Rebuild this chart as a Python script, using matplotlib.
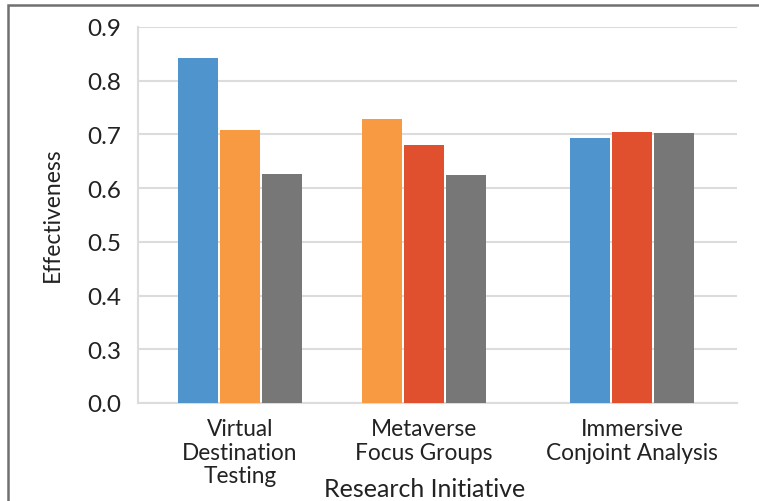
import numpy as np
import matplotlib.pyplot as plt
from matplotlib.patches import Rectangle

plt.rcParams['font.family'] = ['Lato', 'DejaVu Sans']

# data
groups = ["Virtual\nDestination\nTesting", "Metaverse\nFocus Groups", "Immersive\nConjoint Analysis"]
group_pos = [0.0, 1.0, 2.13]
bar_colors = [["#4f94cd", "#f79a42", "#777777"],
              ["#f79a42", "#e0502f", "#777777"],
              ["#4f94cd", "#e0502f", "#777777"]]
bar_values = [[0.843, 0.709, 0.626],
              [0.728, 0.680, 0.624],
              [0.694, 0.705, 0.702]]
ytick_vals = [0.2, 0.3, 0.4, 0.5, 0.6, 0.7, 0.8, 0.9]
ytick_labels = ["0.0", "0.3", "0.4", "0.5", "0.6", "0.7", "0.8", "0.9"]

width = 0.217
step = 0.228

fig = plt.figure(figsize=(7.59, 5.02), dpi=100)
ax = fig.add_axes([138/759, 1 - 404/502, (737-138)/759, (404-28)/502])

for g in range(len(groups)):
    n = len(bar_values[g])
    for k in range(n):
        x = group_pos[g] + (k - (n - 1) / 2) * step
        ax.bar(x, bar_values[g][k] - 0.2, width=width, bottom=0.2,
               color=bar_colors[g][k], linewidth=0, zorder=3)

ax.set_xlim(-0.554, 2.701)
ax.set_ylim(0.2, 0.9)
ax.set_yticks(ytick_vals)
ax.set_yticklabels(ytick_labels)
ax.set_xticks(group_pos)
ax.set_xticklabels(groups, linespacing=1.15)
ax.tick_params(axis='y', length=0, pad=12, labelsize=17.5, colors="#222222")
ax.tick_params(axis='x', length=0, pad=11, labelsize=16.3, colors="#222222")
ax.yaxis.grid(True, color="#dcdcdc", linewidth=1.5, zorder=0)
for s in ["top", "right"]:
    ax.spines[s].set_visible(False)
ax.spines["left"].set_color("#dcdcdc")
ax.spines["bottom"].set_color("#dcdcdc")
ax.spines["left"].set_linewidth(1.5)
ax.spines["bottom"].set_linewidth(1.5)

fig.text(52/759, 1 - 215/502, "Effectiveness", rotation=90, ha="center", va="center",
         fontsize=16.5, color="#222222")
fig.text(425/759, 1 - 490/502, "Research Initiative", ha="center", va="center",
         fontsize=18, color="#222222")

# outer frame
fig.patches.append(Rectangle((8/759, -0.1), 1.1, 1.1 - 6/502, transform=fig.transFigure,
                             fill=False, edgecolor="#707070", linewidth=1.8))

fig.savefig("out.png", dpi=100)
